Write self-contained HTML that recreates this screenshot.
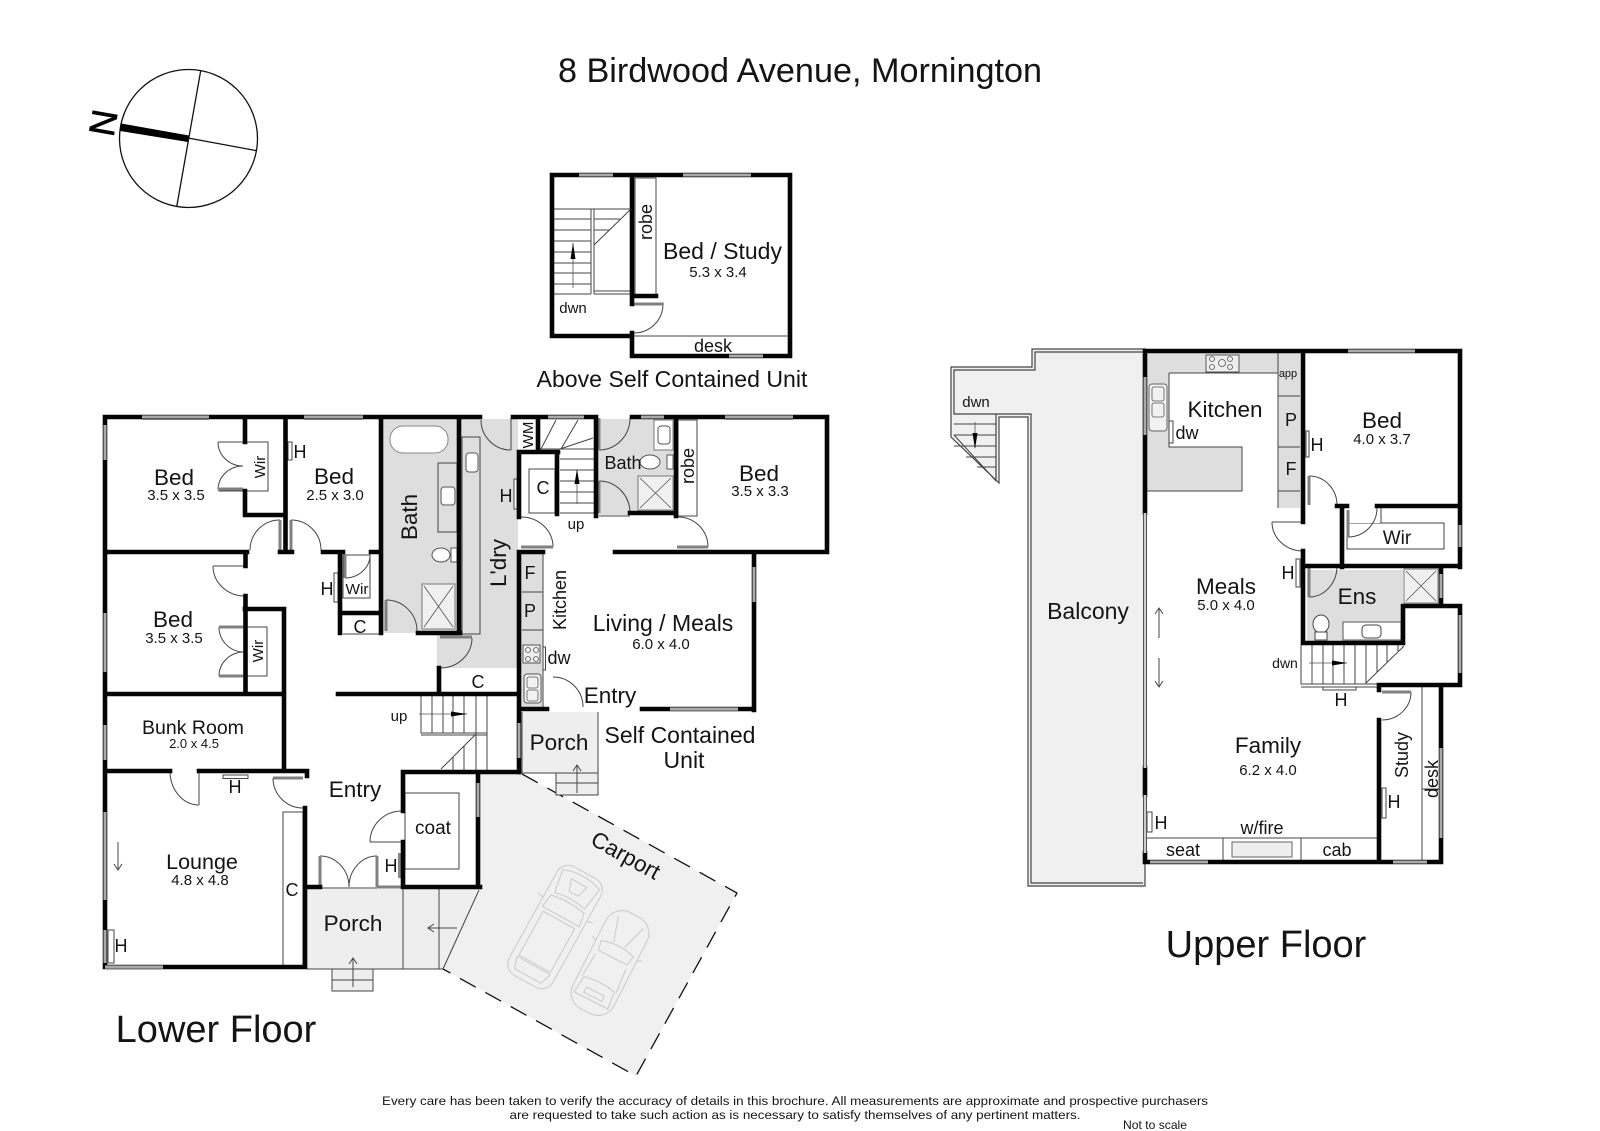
<!DOCTYPE html>
<html><head><meta charset="utf-8"><style>
html,body{margin:0;padding:0;background:#fff}
svg{display:block}
text{font-family:"Liberation Sans",sans-serif;fill:#141414;text-anchor:middle}
.w{stroke:#050505;stroke-width:4.6;fill:none;stroke-linecap:square}
.n{stroke:#aaa;stroke-width:3;fill:none}
.l{stroke:#444;stroke-width:1;fill:none}
.t{stroke:#555;stroke-width:.8;fill:none}
.d{stroke:#444;stroke-width:1;fill:none}
.lf{stroke:#808080;stroke-width:3;fill:none}
.c{stroke:#cdcdcd;stroke-width:1.100;fill:none}
.r{font-size:22.5px}.s{font-size:15px}.m{font-size:18px}.h{font-size:18px}
</style></head><body>
<svg width="1600" height="1131" viewBox="0 0 1600 1131" xmlns="http://www.w3.org/2000/svg">
<rect width="1600" height="1131" fill="#fff"/>

<text x="800" y="82" font-size="34.2">8 Birdwood Avenue, Mornington</text>
<text x="216" y="1042" font-size="38">Lower Floor</text>
<text x="1266" y="957" font-size="38">Upper Floor</text>
<text x="795" y="1105" font-size="12.4" textLength="826" lengthAdjust="spacingAndGlyphs">Every care has been taken to verify the accuracy of details in this brochure. All measurements are approximate and prospective purchasers</text>
<text x="795" y="1119" font-size="12.4" textLength="571" lengthAdjust="spacingAndGlyphs">are requested to take such action as is necessary to satisfy themselves of any pertinent matters.</text>
<text x="1155" y="1129" font-size="12" textLength="64" lengthAdjust="spacingAndGlyphs">Not to scale</text>

<!-- compass -->
<circle cx="188.500" cy="138.500" r="69" fill="none" stroke="#111" stroke-width="1.3"/>
<path d="M200.700 70.700L176.700 206.700M188 138L256.700 150.700" stroke="#111" stroke-width="1.3" fill="none"/>
<path d="M121 123.500L189 135.500L188 142L120 131Z" fill="#000"/>
<text x="0" y="0" font-size="36" transform="translate(115.500,125) rotate(-80)" style="fill:#000;stroke:#000;stroke-width:.7">N</text>

<!-- fills -->
<polygon points="522,774 737,893 636,1076 443,969 479,890 479,773" fill="#f0f0f0"/>
<path d="M522,774L737,893L636,1076L443,969" fill="none" stroke="#111" stroke-width="1.3" stroke-dasharray="18 11"/>
<polygon points="307,889 479,889 443,969 307,969" fill="#eee"/>
<rect x="522" y="712" width="76" height="61" fill="#eee"/>
<rect x="556" y="773" width="42" height="22" fill="#eee"/>
<rect x="332" y="969" width="41" height="22" fill="#eee"/>

<rect x="383" y="419" width="75" height="214" fill="#dedede"/>
<rect x="461" y="419" width="57" height="250" fill="#dedede"/>
<rect x="437" y="635" width="81" height="33" fill="#dedede"/>
<rect x="598" y="419" width="78" height="96" fill="#dedede"/>
<rect x="521" y="552" width="22" height="158" fill="#dedede"/>

<!-- balcony -->
<polygon points="1032,349 1145,349 1145,886 1028,886 1028,417 999,417 999,483 951,437 951,367 1032,367" fill="#f0f0f0" stroke="#444" stroke-width="1.2"/>
<path d="M1143 352H1035V370H954V414H1031V883H1143" fill="none" stroke="#444" stroke-width="1.2"/>
<path d="M996 414V481" stroke="#444" stroke-width="1.2" fill="none"/>
<path d="M954 435L996 481M954 424H996M954 435H996M954 446H996M966 457H996M977 467H996" stroke="#444" stroke-width="1" fill="none"/>
<path d="M975 422V448" class="t"/><polygon points="972.500,433 977.500,433 975,449" fill="#000"/>

<!-- upper grey -->
<path d="M1147 353H1300V508H1278V373H1169V447H1242V491H1147Z" fill="#dedede"/>
<rect x="1307" y="570" width="96" height="72" fill="#dedede"/>

<!-- LOWER thin lines -->
<rect x="462" y="437" width="18" height="197" fill="#fff" class="l"/>
<rect x="438" y="463" width="19" height="69" fill="#fff" class="l"/>
<rect x="390" y="426" width="58" height="27" rx="13" fill="#fff" stroke="#888"/>
<rect x="422" y="584" width="33" height="45" fill="#f0f0f0" stroke="#777"/>
<path d="M424 586L453 627M453 586L424 627" class="t"/>
<ellipse cx="441" cy="555" rx="9" ry="7" fill="#fff" stroke="#555"/><rect x="451" y="548" width="6" height="14" fill="#fff" stroke="#555"/>
<rect x="441" y="487" width="14" height="18" rx="3" fill="#fff" stroke="#555"/>
<rect x="466" y="453" width="12" height="19" rx="3" fill="#fff" stroke="#555"/>
<rect x="438" y="668" width="80" height="25" fill="#fff"/>
<path d="M218 442H268V491H218M219 627H267V676H219" class="l"/>
<rect x="343" y="555" width="27" height="43" fill="#fff" stroke="#444"/>
<rect x="288" y="442" width="4" height="18" fill="#fff" stroke="#444"/>
<rect x="334" y="573" width="4" height="29" fill="#fff" stroke="#444"/>
<path d="M343 634H381" class="l"/>

<!-- doors lower -->
<path d="M218 442A25 24 0 0 0 243 466M218 490A25 24 0 0 1 243 466M219 627A25 25 0 0 0 244 652M219 676A25 24 0 0 1 244 652
M280 520A30 30 0 0 0 250 550M291 520A30 30 0 0 1 321 550M213 566A32 30 0 0 0 245 596M370 555A25 23 0 0 1 345 578M386 600A31 31 0 0 1 417 631
M481 420A30 30 0 0 0 511 450M472 638A32 30 0 0 1 440 668M630 418A31 32 0 0 1 599 450M599 481A31 32 0 0 1 630 513
M521 517A32 30 0 0 1 553 547M678 517A30 30 0 0 1 708 547M553 677A30 30 0 0 1 583 707M170 771A29 34 0 0 0 199 805
M273 778A30 30 0 0 0 303 808M402 811A32 31 0 0 0 370 842M320 856A29 31 0 0 1 349 887M377 856A28 31 0 0 0 349 887" class="d"/>
<path d="M199 772V805M213 566H245M511 418V450M273 778H303M370 842H402" class="l"/>
<path d="M219 489H243M219 627H243M219 676H243M280 520V552M291 520V552M345 555V578M386 600V631M440 637H472M599 418V450M599 481V513M521 547H553M677 547H708M320 856V887M377 856V887M377 887H402M273 778H303" class="lf"/>
<rect x="223" y="775" width="25" height="3.500" fill="#fff" stroke="#444"/>
<rect x="398" y="853" width="3" height="25" fill="#888"/>
<rect x="405" y="793" width="54" height="76" fill="none" stroke="#444"/>
<rect x="283" y="812" width="20" height="155" fill="#fff" stroke="#444"/>
<path d="M320 888H377M403 889V969M439 889V969M307 969H443M479 890L443 969" class="l" stroke="#555"/>
<path d="M332 969V991H373V969M332 980H373" class="l"/>
<path d="M353 987V958M349 964L353 958L357 964M118 842V870M114 864L118 870L122 864M457 928H428M434 924L428 928L434 932" class="l"/>

<!-- lower stairs -->
<path d="M421 694V733H487M421 735H487M432 694V733M443 694V733M453 694V733M464 694V733M476 694V771M487 694V771M441 769L476 734M453 757V771M464 746V771" class="l"/>
<path d="M419 714H467" class="t"/><polygon points="451,711.500 451,716.500 467,714" fill="#000"/>

<!-- self-contained interior -->
<rect x="529" y="469" width="26" height="44" fill="none" stroke="#444"/>
<path d="M560 459H594M560 470H594M560 481H594M560 492H594M560 503H594M560 513H594M540 449H560M560 449H594M560 449L593 438M561 449L578 420M541 449L556 420" class="l"/>
<path d="M577 504V470" class="t"/><polygon points="574.500,484 579.500,484 577,469" fill="#000"/>
<rect x="514" y="479" width="3" height="30" fill="#fff" stroke="#444"/>
<rect x="654" y="420" width="19" height="30" fill="#fff" stroke="#777"/>
<rect x="658" y="426" width="12" height="18" rx="3" fill="#fff" stroke="#555"/>
<ellipse cx="650" cy="462" rx="10" ry="7" fill="#fff" stroke="#555"/><rect x="667" y="455" width="6" height="14" fill="#fff" stroke="#555"/>
<rect x="638" y="476" width="35" height="34" fill="#f0f0f0" stroke="#777"/>
<path d="M640 478L671 508M671 478L640 508" class="t"/>
<rect x="678" y="420" width="19" height="96" fill="#fff" stroke="#444"/>
<path d="M599 516H630" class="l"/>
<path d="M522 592H543M522 630H543M543 552V710" class="l"/>
<rect x="523" y="645" width="17" height="18" fill="#eee" stroke="#555"/>
<circle cx="528" cy="650" r="2.500" class="t"/><circle cx="536" cy="650" r="2.500" class="t"/><circle cx="528" cy="659" r="2.500" class="t"/><circle cx="536" cy="659" r="2.500" class="t"/>
<rect x="524" y="674" width="17" height="29" rx="3" fill="#f2f2f2" stroke="#555"/>
<rect x="527" y="677" width="11" height="11" rx="2" class="t"/><rect x="527" y="690" width="11" height="11" rx="2" class="t"/>
<rect x="543" y="647" width="2.500" height="23" fill="#fff" stroke="#444"/>
<path d="M522 712V773H598V712M556 773V795H598V773M556 783H598M577 793V765M573 771L577 765L581 771" class="l"/>

<!-- LOWER walls -->
<path class="w" d="M105 417H480M105 417V967H305M245 417V442M245 491V515H285M285.500 417V552M105 552H247M280 552H292M323 552H343M371 552H381
M381 417V633M459 417V633M418 633H460M340 552V633M340 613H381M245.500 552V566M245.500 596V693M245 609H284M284 609V771M105 694H284
M338 694H517M439 668V694M107 771H170M199 771H307M307 771V776M305 808V967M307 887H320M403 887H480M403 772H519M403 772V811M403 842V887M478 772V887"/>
<path class="w" d="M513 417H596M519 452V517M519 552V772M538 417V450M519 452H558M557 452V514M596 417V516M632 417H827M630 513H676M676 417V516M827 417V552M615 552H827M520 552H543M754 552V710M519 709H547M642 709H754"/>
<!-- lower windows -->
<path class="n" d="M142 417H209M304 417H363M105 425V460M105 613V672M105 725V760M105 812V900M105 930V963M105 967H163M548 417H584M641 417H664M725 417H793M754 567V602M478 783V817M519 723V758M670 709H738"/>
<path d="M142 415.500H209M142 419.500H209M304 415.500H363M304 419.500H363M725 415.500H793M725 419.500H793M105 965.500H163M105 969H163M670 707.500H738M670 711H738" stroke="#666" stroke-width=".7"/>
<rect x="108" y="930" width="6" height="33" fill="#fff" stroke="#444"/>

<!-- ABOVE UNIT -->
<rect x="635" y="178" width="21" height="117" fill="#fff" stroke="#444"/>
<path d="M553 209H630M553 219H591M594 219H620M553 230H591M594 230H609M553 241H591M553 252H591M553 263H591M553 273H591M553 284H591M591 209V294M594 209V294M554 294H591M594 291H630M594 294H630M630 210L594 245" class="l"/>
<path d="M573 288V243" class="t"/><polygon points="570.500,259 575.500,259 573,243" fill="#000"/>
<path d="M634 303H663V305M663 304A29 29 0 0 1 634 333M634 336H788" class="d"/>
<path d="M634 304H663" class="lf" stroke-width="1.5"/>
<path class="w" d="M552 175H790V356H632M552 175V336H632M632 175V304M632 333V356M632 296H656"/>
<path class="n" d="M579 175H613M683 175H751M729 356H763"/>

<!-- UPPER interior -->
<path d="M1278 353V508M1278 396H1300M1278 447H1300M1278 491H1300M1169 373H1278M1169 373V447H1242V491H1147" class="l"/>
<rect x="1206" y="355" width="33" height="17" fill="#eee" stroke="#555"/>
<circle cx="1212" cy="359" r="2.500" class="t"/><circle cx="1222" cy="363" r="3.500" class="t"/><circle cx="1230" cy="359" r="2.500" class="t"/><circle cx="1212" cy="367" r="2.500" class="t"/><circle cx="1230" cy="367" r="2.500" class="t"/>
<rect x="1149" y="384" width="18" height="47" rx="3" fill="#f2f2f2" stroke="#666"/>
<rect x="1152" y="387" width="12" height="14" rx="2" class="t"/><rect x="1152" y="403" width="12" height="14" rx="2" class="t"/>
<rect x="1169" y="421" width="4" height="22" fill="#fff" stroke="#444"/>
<rect x="1306" y="431" width="3" height="26" fill="#fff" stroke="#444"/>
<rect x="1296" y="559" width="4" height="28" fill="#fff" stroke="#444"/>
<rect x="1347" y="523" width="97" height="26" fill="#fff" stroke="#444"/>
<path d="M1381 506V523" class="l"/><rect x="1348" y="510" width="32" height="13" fill="#fff"/>
<path d="M1309 476A28 29 0 0 1 1337 505M1377 508A29 29 0 0 1 1348 537M1272 522A31 29 0 0 0 1303 551M1337 566A28 31 0 0 1 1309 597M1411 692A29 28 0 0 1 1382 720M1272 522H1303" class="d"/>
<path d="M1309 476V505M1348 510V537M1309 567V597M1382 692H1411" class="lf"/>
<rect x="1404" y="569" width="34" height="34" fill="#f0f0f0" stroke="#777"/>
<path d="M1406 571L1436 601M1436 571L1406 601" class="t"/>
<rect x="1343" y="622" width="58" height="18" fill="#fff" stroke="#555"/>
<rect x="1362" y="625" width="19" height="13" rx="4" fill="#fff" stroke="#444"/>
<ellipse cx="1321" cy="624" rx="8" ry="9" fill="#fff" stroke="#444"/><rect x="1315" y="632" width="12" height="8" fill="#fff" stroke="#444"/>
<path d="M1301 645V684H1378M1301 687H1378M1312 645V684M1323 645V684M1333 645V684M1344 645V684M1355 645V684M1366 645V684M1377 645V672M1387 645V662M1398 645V651M1404 646L1366 683" class="l"/>
<path d="M1309 663H1347" class="t"/><polygon points="1332,660.500 1332,665.500 1347,663" fill="#000"/>
<rect x="1323" y="687" width="33" height="3" fill="#fff" stroke="#444"/>
<path d="M1422 687V862M1422 789H1441" class="l"/>
<path d="M1147 838H1377M1223 838V862M1301 838V862" class="l"/>
<rect x="1232" y="842" width="60" height="15" fill="#eee" stroke="#666"/>
<rect x="1147" y="812" width="5" height="20" fill="#fff" stroke="#444"/>
<rect x="1382" y="788" width="4" height="30" fill="#fff" stroke="#444"/>
<path d="M1159 638V608M1155 614L1159 608L1163 614M1159 658V687M1155 681L1159 687L1163 681" class="l"/>

<!-- UPPER walls -->
<path class="w" d="M1145 351H1460M1145 351V513M1145 768V795M1145 853V862M1303 351V522M1303 551V643M1337 506H1347M1377 506H1460M1460 351V567M1342 506V567M1303 566H1460M1441 567V604M1403 606H1460M1403 606V643M1460 606V685M1303 643H1403M1379 685H1460M1379 685V690M1379 720V862M1441 687V862M1145 862H1441"/>
<path class="n" d="M1145 377V435M1348 351H1415M1460 525V547M1460 615V673M1441 574V598M1441 748V838M1150 862H1208M1393 862H1427"/>
<path d="M1143.500 513V768M1146.500 513V768M1143.500 795V853M1146.500 795V853" stroke="#555" stroke-width="1"/>
<path d="M1145 513V768M1145 795V853" stroke="#ccc" stroke-width="2"/>

<!-- cars -->
<g transform="translate(555,927) rotate(29)" class="c">
<rect x="-25" y="-62" width="50" height="124" rx="13"/>
<path d="M-21 -54Q0 -62 21 -54L17 -30Q0 -34 -17 -30ZM-19 -26Q0 -30 19 -26L21 -12H-21ZM-18 -8H18V42H-18ZM-19 44H19L15 56H-15ZM-25 -20L-31 -22M25 -20L31 -22M-9 -50H9L5 -38H-5Z"/>
</g>
<g transform="translate(610,963) rotate(27)" class="c">
<rect x="-23" y="-54" width="46" height="108" rx="18"/>
<path d="M-14 -46L-6 -20M14 -46L6 -20M-18 -16Q0 -22 18 -16L16 -6H-16ZM-17 -2L-19 24M17 -2L19 24M-17 24Q0 20 17 24L19 42H-19ZM-10 32H10V38H-10ZM-23 -14L-28 -16M23 -14L28 -16"/>
</g>

<!-- LOWER labels -->
<text class="r" x="174" y="485">Bed</text><text class="s" x="176" y="500">3.5 x 3.5</text>
<text class="r" x="334" y="484">Bed</text><text class="s" x="335" y="500">2.5 x 3.0</text>
<text class="r" x="173" y="627">Bed</text><text class="s" x="174" y="643">3.5 x 3.5</text>
<text class="r" transform="translate(417,517) rotate(-90)">Bath</text>
<text class="r" transform="translate(506,563) rotate(-90)">L'dry</text>
<text class="s" transform="translate(265,467) rotate(-90)">Wir</text>
<text class="s" transform="translate(263,651) rotate(-90)">Wir</text>
<text class="s" x="357" y="594" textLength="23" lengthAdjust="spacingAndGlyphs">Wir</text>
<text class="h" x="300" y="458">H</text><text class="h" x="327" y="595">H</text>
<text class="m" x="360" y="633">C</text><text class="m" x="478" y="688">C</text>
<text class="s" x="399" y="721">up</text>
<text font-size="19.500" x="193" y="734">Bunk Room</text><text font-size="13" x="194" y="748">2.0 x 4.5</text>
<text class="h" x="235" y="793">H</text>
<text class="r" x="355" y="797">Entry</text>
<text font-size="19" x="433" y="834">coat</text>
<text class="h" x="391" y="872">H</text>
<text font-size="21.500" x="202" y="869">Lounge</text><text class="s" x="200" y="885">4.8 x 4.8</text>
<text class="m" x="292" y="896">C</text>
<text class="h" x="121" y="952">H</text>
<text class="r" x="353" y="931">Porch</text>
<text class="r" x="559" y="750">Porch</text>
<text font-size="23" x="680" y="743">Self Contained</text><text font-size="23" x="684" y="768">Unit</text>
<text class="r" transform="translate(622,862) rotate(29)">Carport</text>

<!-- unit labels -->
<text style="font-size:15px" transform="translate(533,435) rotate(-90)">WM</text>
<text class="h" x="506" y="502">H</text>
<text class="m" x="543" y="494">C</text>
<text class="m" x="623" y="469">Bath</text>
<text class="m" transform="translate(694,466) rotate(-90)">robe</text>
<text class="r" x="759" y="481">Bed</text><text class="s" x="760" y="496">3.5 x 3.3</text>
<text class="s" x="576" y="529">up</text>
<text class="m" x="530" y="579">F</text><text class="m" x="530" y="617">P</text>
<text class="m" transform="translate(566,600) rotate(-90)">Kitchen</text>
<text class="m" x="559" y="664">dw</text>
<text font-size="23" x="663" y="631">Living / Meals</text><text class="s" x="661" y="649">6.0 x 4.0</text>
<text class="r" x="610" y="703">Entry</text>

<!-- above unit labels -->
<text class="s" x="573" y="313">dwn</text>
<text class="m" transform="translate(652,222) rotate(-90)">robe</text>
<text font-size="23" x="722.500" y="259">Bed / Study</text><text class="s" x="718" y="277">5.3 x 3.4</text>
<text class="m" x="713" y="352">desk</text>
<text font-size="23.100" x="672" y="387">Above Self Contained Unit</text>

<!-- upper labels -->
<text class="s" x="976" y="407">dwn</text>
<text font-size="23" x="1088" y="619">Balcony</text>
<text font-size="11" x="1288" y="377">app</text>
<text class="m" x="1291" y="426">P</text><text class="m" x="1291" y="475">F</text>
<text class="r" x="1225" y="417">Kitchen</text>
<text class="m" x="1187" y="439">dw</text>
<text class="h" x="1317" y="451">H</text>
<text class="r" x="1382" y="428">Bed</text><text class="s" x="1382" y="444">4.0 x 3.7</text>
<text font-size="19" x="1397" y="544">Wir</text>
<text class="h" x="1288" y="579">H</text>
<text class="r" x="1226" y="594">Meals</text><text class="s" x="1226" y="610">5.0 x 4.0</text>
<text class="r" x="1357" y="604">Ens</text>
<text font-size="14" x="1285" y="668">dwn</text>
<text class="h" x="1341" y="706">H</text>
<text class="r" x="1268" y="753">Family</text><text class="s" x="1268" y="775">6.2 x 4.0</text>
<text class="m" transform="translate(1408,755) rotate(-90)">Study</text>
<text class="m" transform="translate(1438,779) rotate(-90)">desk</text>
<text class="h" x="1394" y="808">H</text>
<text class="h" x="1161" y="829">H</text>
<text class="m" x="1262" y="834">w/fire</text>
<text class="m" x="1183" y="856">seat</text>
<text class="m" x="1337" y="856">cab</text>
</svg>
</body></html>
